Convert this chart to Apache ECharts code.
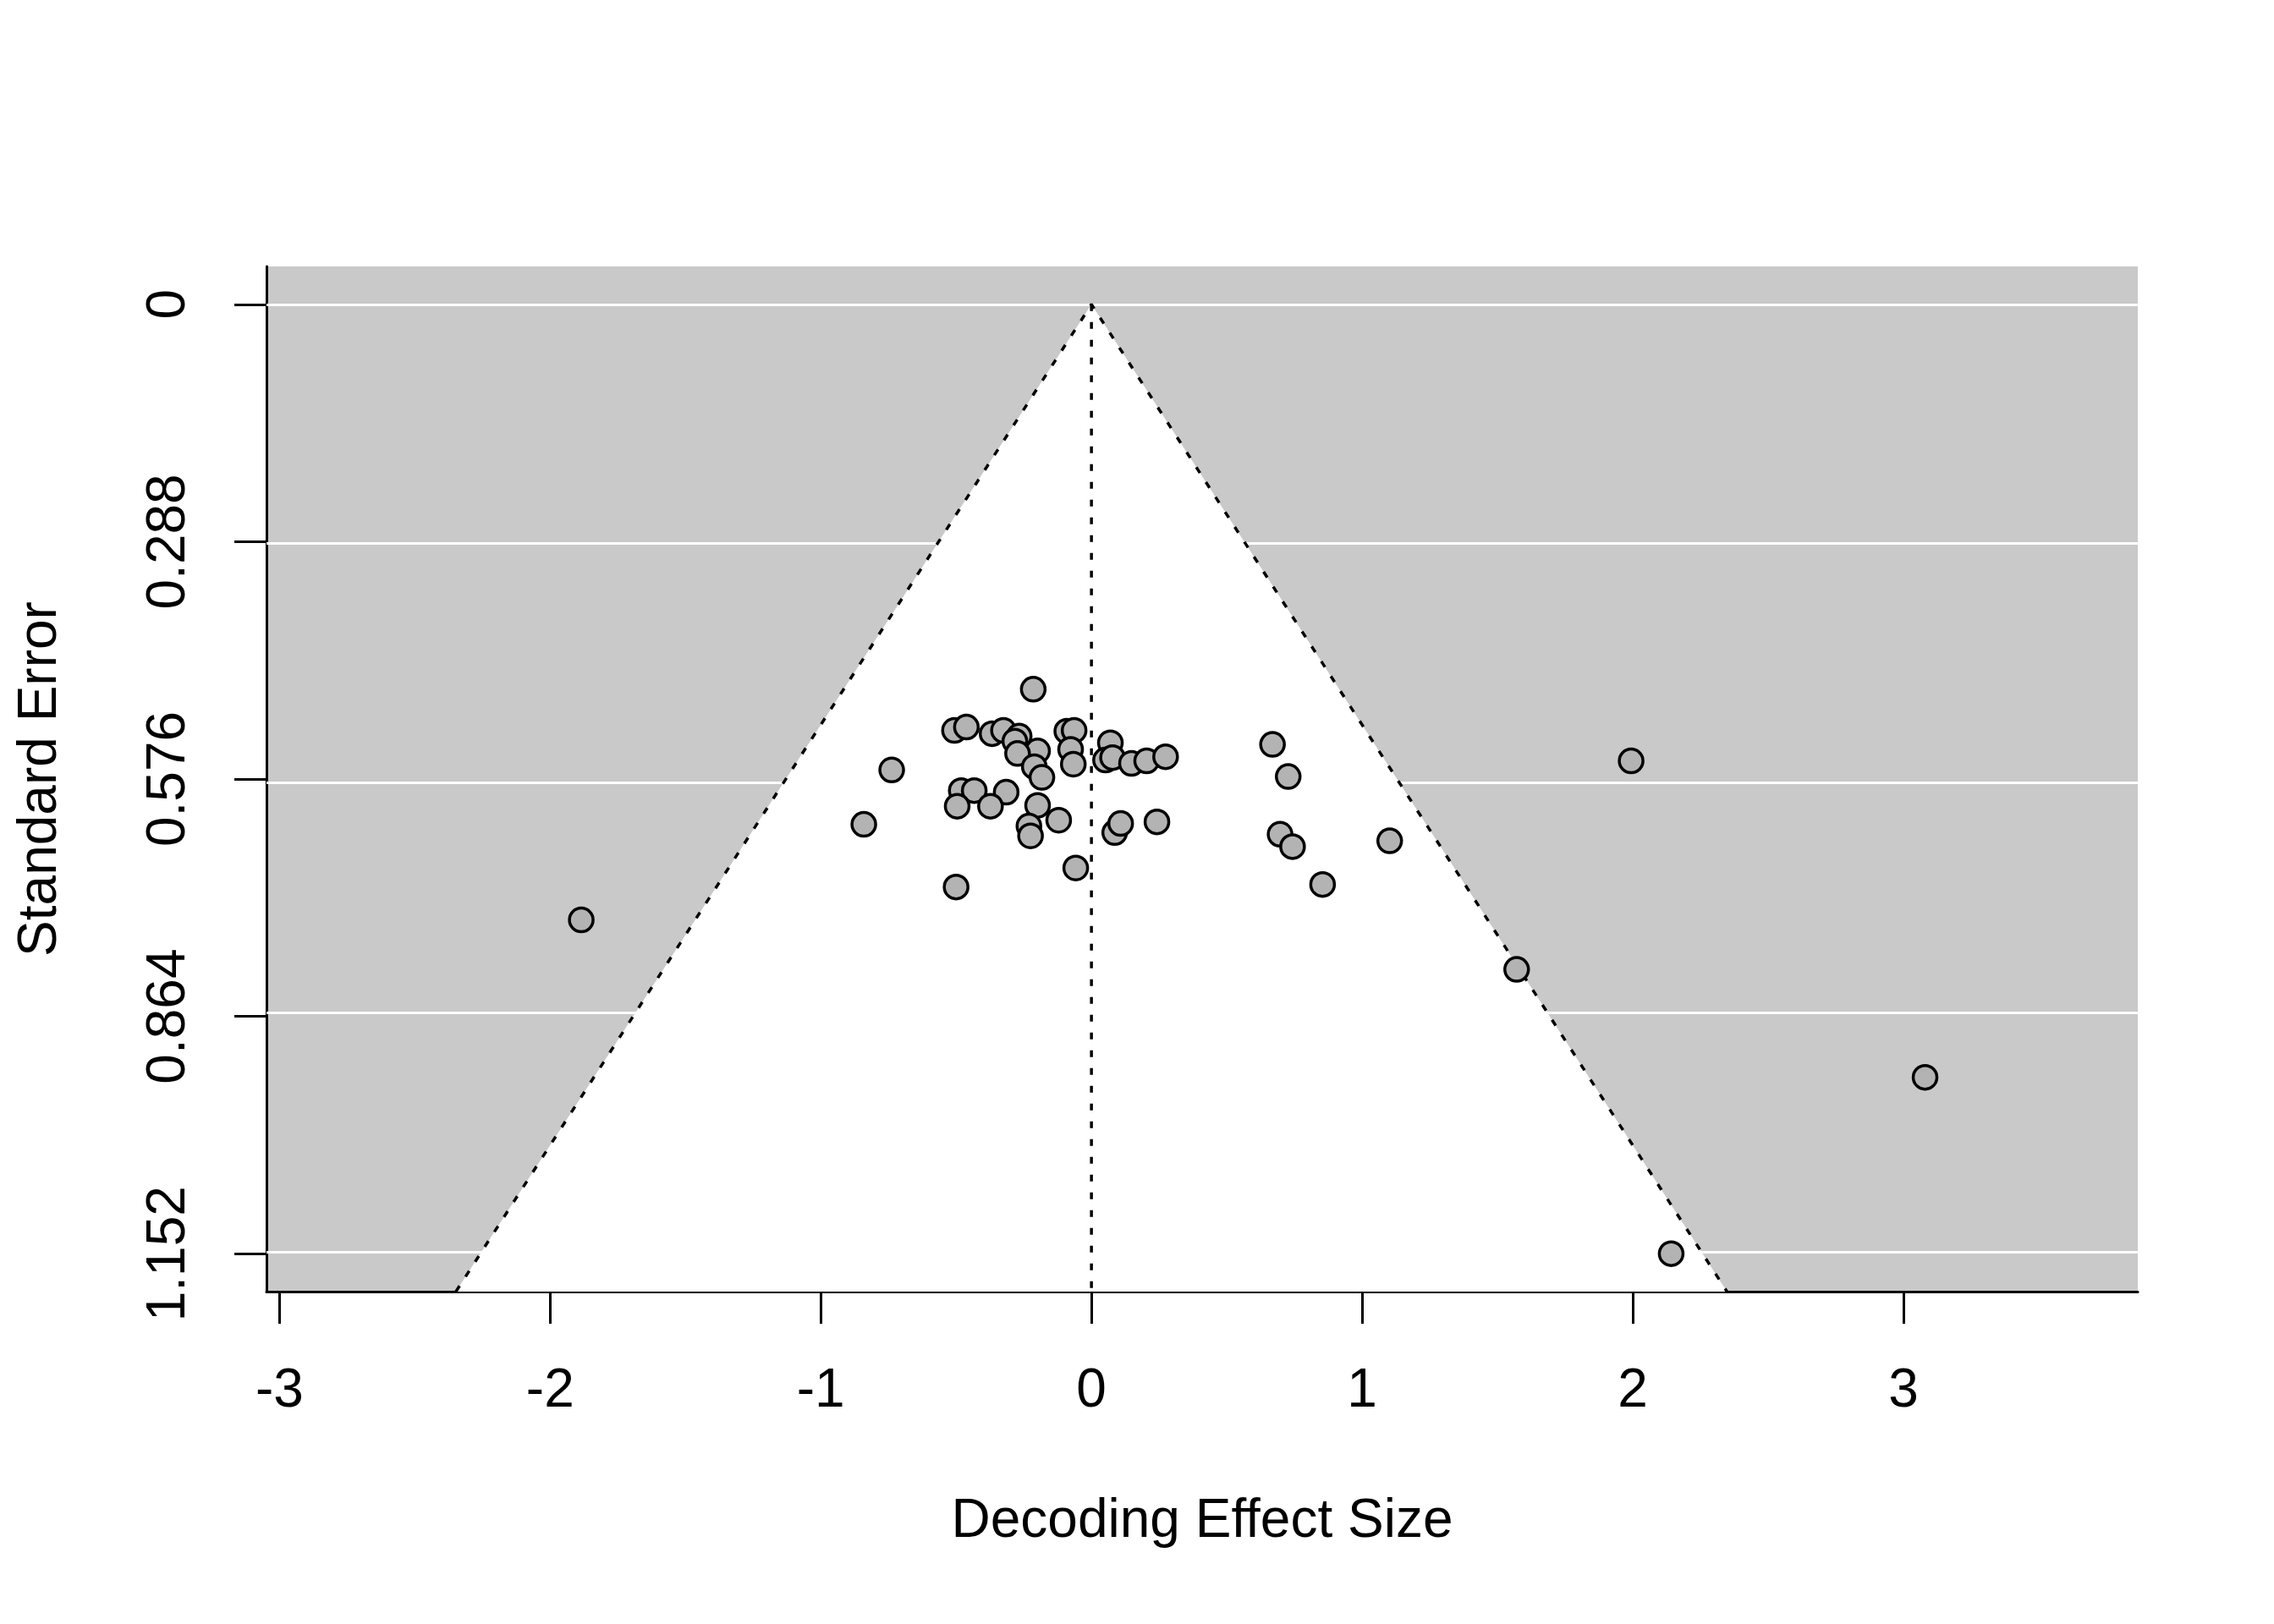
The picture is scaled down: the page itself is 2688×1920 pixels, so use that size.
<!DOCTYPE html>
<html>
<head>
<meta charset="utf-8">
<script src="https://cdn.jsdelivr.net/npm/echarts@6.0.0/dist/echarts.min.js"></script>
<style>
  html, body { margin: 0; padding: 0; background: #fff; }
  #chart { width: 2688px; height: 1920px; }
</style>
</head>
<body>
<div id="chart"></div>
<script>
// --- data ---
const effectSize = [
  -0.215, -0.506, -0.462, -0.367, -0.325, -0.267, -0.283, -0.199, -0.273, -0.211,
  -0.183, -0.091, -0.064, -0.077, -0.067,  0.070,  0.052,  0.078,  0.148,  0.204,
   0.274, -0.738, -0.481, -0.433, -0.315, -0.496, -0.373, -0.199, -0.231, -0.225,
  -0.121, -0.841,  0.086,  0.108,  0.242, -0.058, -0.500,  0.669,  0.727,  0.697,
   0.743,  1.102,  0.854,  1.994, -1.885,  1.571,  3.080,  2.142
];
const stdError = [
  0.467, 0.517, 0.513, 0.521, 0.517, 0.524, 0.530, 0.542, 0.545, 0.561,
  0.574, 0.518, 0.517, 0.540, 0.558, 0.532, 0.553, 0.550, 0.557, 0.554,
  0.549, 0.565, 0.590, 0.590, 0.592, 0.609, 0.609, 0.608, 0.633, 0.645,
  0.626, 0.631, 0.641, 0.630, 0.628, 0.684, 0.707, 0.534, 0.573, 0.643,
  0.658, 0.651, 0.704, 0.554, 0.747, 0.807, 0.938, 1.152
];
const xTicks = [-3, -2, -1, 0, 1, 2, 3];
const seTicks = [0, 0.288, 0.576, 0.864, 1.152];
const seTickLabels = ['0', '0.288', '0.576', '0.864', '1.152'];

const refEstimate = 0;   // centre of the funnel
const zCrit = 1.96;      // pseudo 95% limits
const xRange = [-3.048, 3.866];
const seRange = [-0.046, 1.198];

const FONT = 'Liberation Sans';
const seBottom = seRange[1];
const funnelEdge = [
  [refEstimate - zCrit * seBottom, seBottom],
  [refEstimate, 0],
  [refEstimate + zCrit * seBottom, seBottom]
];

const chart = echarts.init(document.getElementById('chart'));
chart.setOption({
  animation: false,
  backgroundColor: '#ffffff',
  grid: {
    left: 315, right: 161, top: 315, bottom: 393,
    show: true, backgroundColor: '#c9c9c9', borderWidth: 0
  },
  xAxis: {
    type: 'value',
    min: xRange[0], max: xRange[1],
    name: 'Decoding Effect Size',
    nameLocation: 'middle',
    nameGap: 240,
    nameTextStyle: { fontFamily: FONT, fontSize: 64, color: '#000' },
    axisLine: { show: true, onZero: false, lineStyle: { color: '#000', width: 3 } },
    axisTick: { show: true, length: 38, customValues: xTicks, lineStyle: { color: '#000', width: 3 } },
    axisLabel: {
      customValues: xTicks, margin: 86,
      fontFamily: FONT, fontSize: 64, color: '#000'
    },
    splitLine: { show: false }
  },
  yAxis: {
    type: 'value',
    inverse: true,
    min: seRange[0], max: seRange[1],
    name: 'Standard Error',
    nameLocation: 'middle',
    nameGap: 235,
    nameTextStyle: { fontFamily: FONT, fontSize: 64, color: '#000' },
    axisLine: { show: true, onZero: false, lineStyle: { color: '#000', width: 3 } },
    axisTick: { show: true, length: 38, customValues: seTicks, lineStyle: { color: '#000', width: 3 } },
    axisLabel: {
      customValues: seTicks, rotate: 90, margin: 83,
      fontFamily: FONT, fontSize: 64, color: '#000',
      formatter: v => seTickLabels[seTicks.indexOf(v)] ?? String(v)
    },
    splitLine: { show: false }
  },
  series: [
    {
      // white region inside the funnel
      type: 'custom',
      z: 1,
      silent: true,
      data: [[refEstimate, seBottom]],
      renderItem: (params, api) => ({
        type: 'polygon',
        shape: { points: funnelEdge.map(p => api.coord(p)) },
        style: { fill: '#ffffff' }
      })
    },
    {
      // funnel limits + white reference grid lines (kept under the points)
      type: 'line',
      z: 2,
      silent: true,
      data: funnelEdge,
      symbol: 'none',
      lineStyle: { color: '#000', width: 3.5, type: [8, 13] },
      markLine: {
        z: 1,
        silent: true,
        symbol: 'none',
        label: { show: false },
        lineStyle: { color: '#ffffff', width: 3, type: 'solid' },
        data: seTicks.map(v => ({ yAxis: v }))
      }
    },
    {
      // vertical reference line at the estimate
      type: 'line',
      z: 2,
      silent: true,
      data: [[refEstimate, 0], [refEstimate, seBottom]],
      symbol: 'none',
      lineStyle: { color: '#000', width: 3.5, type: [8, 13] }
    },
    {
      type: 'scatter',
      z: 3,
      data: effectSize.map((x, i) => [x, stdError[i]]),
      symbol: 'circle',
      symbolSize: 28,
      itemStyle: { color: '#b3b3b3', borderColor: '#000', borderWidth: 3.5, opacity: 1 }
    }
  ]
});
</script>
</body>
</html>
